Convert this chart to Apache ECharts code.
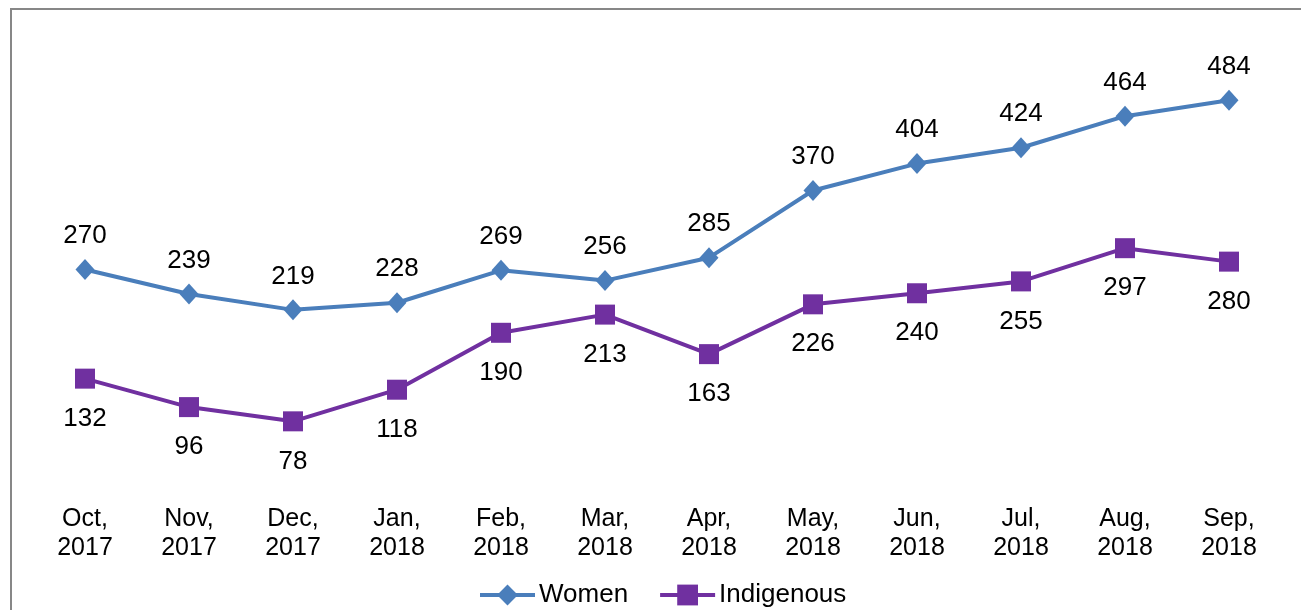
<!DOCTYPE html>
<html>
<head>
<meta charset="utf-8">
<script src="https://cdn.jsdelivr.net/npm/echarts@6/dist/echarts.min.js"></script>
<style>
html,body{margin:0;padding:0;background:#fff;}
#main{width:1301px;height:610px;}
</style>
</head>
<body>
<div id="main"></div>
<script>
// month labels, two lines each
var months = ['Oct,\n2017','Nov,\n2017','Dec,\n2017','Jan,\n2018','Feb,\n2018','Mar,\n2018',
	'Apr,\n2018','May,\n2018','Jun,\n2018','Jul,\n2018','Aug,\n2018','Sep,\n2018'];
var women = [270,239,219,228,269,256,285,370,404,424,464,484];
var indigenous = [132,96,78,118,190,213,163,226,240,255,297,280];

var font = 'Liberation Sans, Arial, sans-serif';

var myChart = echarts.init(document.getElementById('main'));
var option = {
	animation: false,
	backgroundColor: '#fff',
	graphic: [{
		type: 'rect',
		shape: {x: 11, y: 9, width: 1330, height: 640},
		style: {fill: 'none', stroke: '#878787', lineWidth: 2},
		silent: true
	}],
	grid: {left: 33, right: 20, top: 87.7, bottom: 127},
	legend: {
		bottom: 2,
		left: 478,
		padding: 0,
		itemWidth: 55,
		itemHeight: 26,
		itemGap: 30,
		lineStyle: {width: 4},
		textStyle: {fontFamily: font, fontSize: 26, color: '#000', padding: [0,0,0,-1]},
		data: ['Women','Indigenous']
	},
	xAxis: {
		type: 'category',
		data: months,
		axisLine: {show: false},
		axisTick: {show: false},
		axisLabel: {fontFamily: font, fontSize: 25, color: '#000', lineHeight: 29, margin: 22, interval: 0}
	},
	yAxis: {
		type: 'value',
		min: 0,
		max: 500,
		show: false,
		splitLine: {show: false}
	},
	series: [
		{
			name: 'Women',
			type: 'line',
			data: women,
			symbol: 'diamond',
			symbolSize: [19, 21],
			itemStyle: {color: '#4A7EBB'},
			lineStyle: {color: '#4A7EBB', width: 4},
			label: {
				show: true, position: 'top', distance: 10,
				fontFamily: font, fontSize: 26, color: '#000'
			}
		},
		{
			name: 'Indigenous',
			type: 'line',
			data: indigenous,
			symbol: 'rect',
			symbolSize: 20,
			itemStyle: {color: '#7030A0'},
			lineStyle: {color: '#7030A0', width: 4},
			label: {
				show: true, position: 'bottom', distance: 17,
				fontFamily: font, fontSize: 26, color: '#000'
			}
		}
	]
};
myChart.setOption(option);
</script>
</body>
</html>
